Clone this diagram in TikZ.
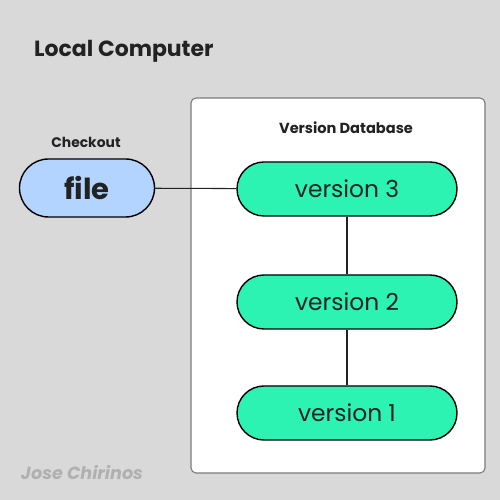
\documentclass[tikz,border=0pt]{standalone}
\usepackage{fontspec}
\setmainfont{Poppins}
\usetikzlibrary{positioning}

\definecolor{bggray}{HTML}{D9D9D9}
\definecolor{boxgray}{HTML}{7A7A7A}
\definecolor{vgreen}{HTML}{2CF2B2}
\definecolor{fblue}{HTML}{B3D4FF}
\definecolor{inkgray}{HTML}{222222}
\definecolor{signgray}{HTML}{B0B0B0}

\begin{document}
\begin{tikzpicture}
	\tikzstyle{version} = [ draw=black, fill=vgreen, rounded corners=0.54cm, line width=0.8pt, minimum width=4.4cm, minimum height=1.08cm, text=inkgray, font={\fontsize{13.3}{15}\selectfont}];
	\tikzstyle{work} = [ draw=black, fill=fblue, rounded corners=0.58cm, line width=0.8pt, minimum width=2.7cm, minimum height=1.16cm, text=inkgray, font={\fontsize{16.5}{20}\selectfont\bfseries}];
	\tikzstyle{caption} = [ text=inkgray, font={\fontsize{8.3}{10}\selectfont\bfseries}];
	\tikzstyle{link} = [ -, line width=0.6pt, color=inkgray ];

	% background and database frame
	\fill[bggray] (0,0) rectangle (10,10);
	\filldraw[fill=white, draw=boxgray, line width=0.6pt, rounded corners=0.1cm] (3.82,0.54) rectangle (9.70,8.04);

	\node[anchor=west, text=inkgray, font={\fontsize{12.5}{15}\selectfont\bfseries}] (title) at (0.56,8.98) {Local Computer};
	\node[caption] (db) at (6.92,7.44) {Version Database};
	\node[caption, font={\fontsize{7.9}{10}\selectfont\bfseries}] (checkout) at (1.72,7.16) {Checkout};

	\node[work] (file) at (1.74,6.24) {file};

	\foreach \v/\y in {3/6.22,2/3.96,1/1.74} {
		\node[version] (v\v) at (6.94,\y) {version \v};
	}

	\draw[link] (file) -- (v3);
	\foreach \a/\b in {3/2,2/1} {
		\draw[link] (v\a) -- (v\b);
	}

	\node[text=signgray, font={\fontsize{10}{12}\selectfont\bfseries\itshape}] (sign) at (1.64,0.54) {Jose Chirinos};
\end{tikzpicture}
\end{document}
